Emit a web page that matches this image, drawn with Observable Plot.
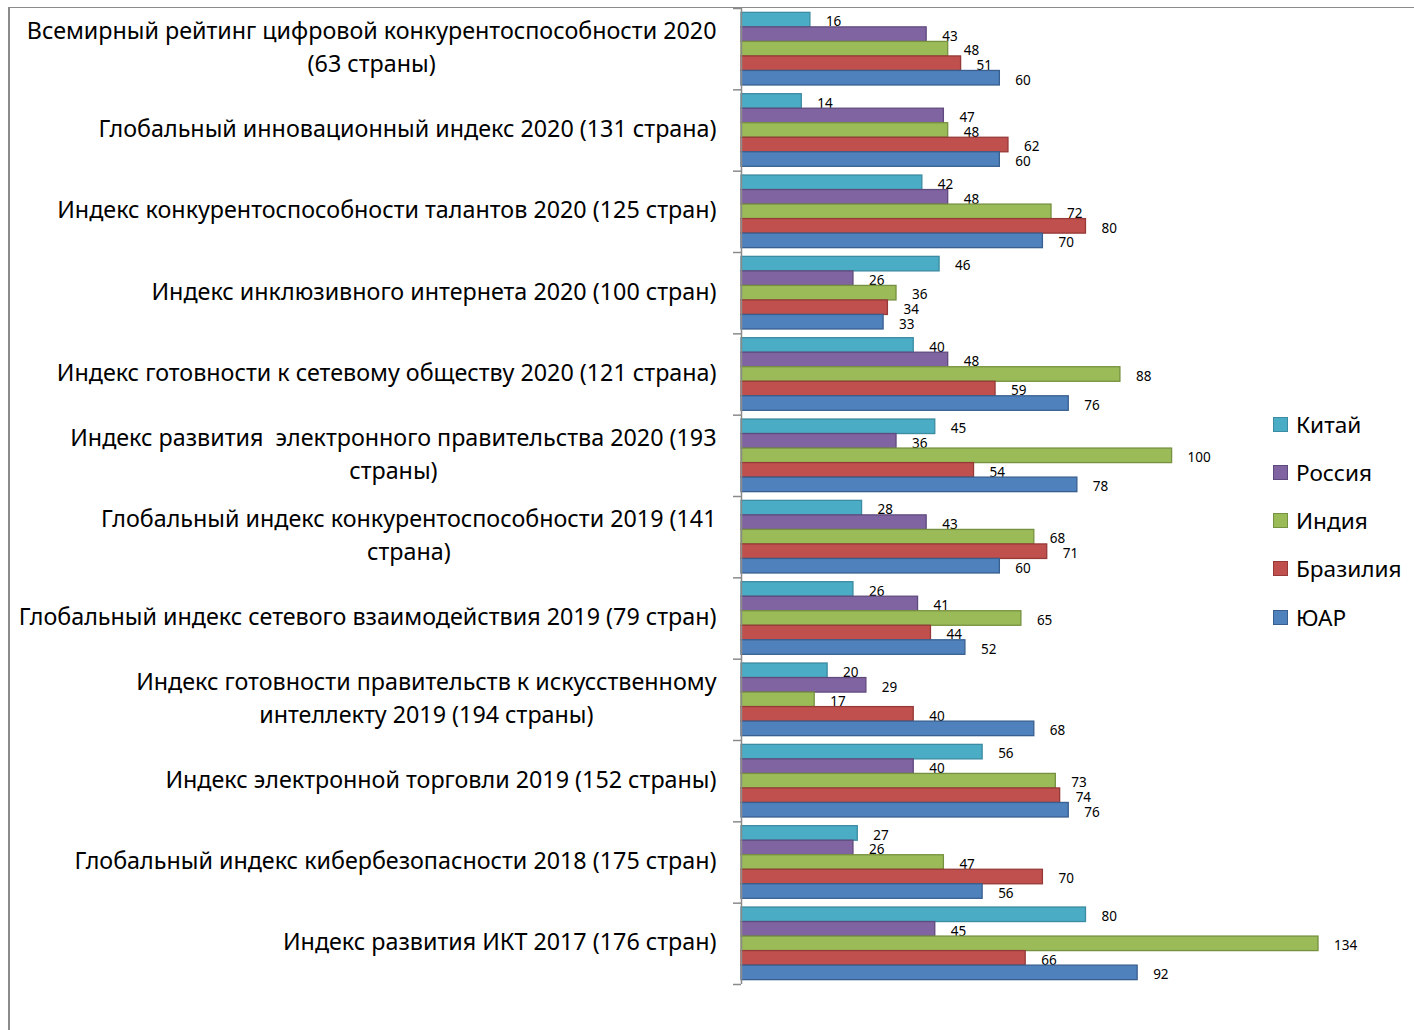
<!DOCTYPE html>
<html><head><meta charset="utf-8">
<script src="https://cdn.jsdelivr.net/npm/d3@7"></script>
<script src="https://cdn.jsdelivr.net/npm/@observablehq/plot@0.6"></script>
<style>
body{margin:0;background:#fff;font-family:"Noto Sans",sans-serif;}
#wrap{position:relative;width:1414px;height:1030px;overflow:hidden;}
#border{position:absolute;left:8px;top:6.5px;width:1500px;height:1100px;border-top:1.5px solid #8a8a8a;border-left:2px solid #8a8a8a;}
#chart{position:absolute;left:0;top:0;}
#legend{position:absolute;left:1273px;top:400px;}
.item{display:flex;align-items:center;height:48.25px;font-size:22.6px;color:#000;}
.item .sw{border:1.5px solid;margin-right:8px;box-sizing:border-box;width:15px;height:15px;}
</style></head>
<body><div id="wrap"><div id="border"></div><div id="chart"></div><div id="legend"></div></div>
<script>
const categories = [
  "Всемирный рейтинг цифровой конкурентоспособности 2020 (63 страны)",
  "Глобальный инновационный индекс 2020 (131 страна)",
  "Индекс конкурентоспособности талантов 2020 (125 стран)",
  "Индекс инклюзивного интернета 2020 (100 стран)",
  "Индекс готовности к сетевому обществу 2020 (121 страна)",
  "Индекс развития  электронного правительства 2020 (193 страны)",
  "Глобальный индекс конкурентоспособности 2019 (141 страна)",
  "Глобальный индекс сетевого взаимодействия 2019 (79 стран)",
  "Индекс готовности правительств к искусственному интеллекту 2019 (194 страны)",
  "Индекс электронной торговли 2019 (152 страны)",
  "Глобальный индекс кибербезопасности 2018 (175 стран)",
  "Индекс развития ИКТ 2017 (176 стран)"
];
const categoryLabels = [
  "Всемирный рейтинг цифровой конкурентоспособности 2020\n(63 страны)",
  "Глобальный инновационный индекс 2020 (131 страна)",
  "Индекс конкурентоспособности талантов 2020 (125 стран)",
  "Индекс инклюзивного интернета 2020 (100 стран)",
  "Индекс готовности к сетевому обществу 2020 (121 страна)",
  "Индекс развития  электронного правительства 2020 (193\nстраны)",
  "Глобальный индекс конкурентоспособности 2019 (141\nстрана)",
  "Глобальный индекс сетевого взаимодействия 2019 (79 стран)",
  "Индекс готовности правительств к искусственному\nинтеллекту 2019 (194 страны)",
  "Индекс электронной торговли 2019 (152 страны)",
  "Глобальный индекс кибербезопасности 2018 (175 стран)",
  "Индекс развития ИКТ 2017 (176 стран)"
];
const series = ["Китай", "Россия", "Индия", "Бразилия", "ЮАР"];
const china    = [16, 14, 42, 46, 40, 45, 28, 26, 20, 56, 27, 80];
const russia   = [43, 47, 48, 26, 48, 36, 43, 41, 29, 40, 26, 45];
const india    = [48, 48, 72, 36, 88, 100, 68, 65, 17, 73, 47, 134];
const brazil   = [51, 62, 80, 34, 59, 54, 71, 44, 40, 74, 70, 66];
const rsa      = [60, 60, 70, 33, 76, 78, 60, 52, 68, 76, 56, 92];
const fills   = ["#4bacc6", "#8064a2", "#9bbb59", "#c0504d", "#4f81bd"];
const strokes = ["#3b8ba1", "#5f4a7d", "#76913f", "#953a38", "#395f8f"];

const valuesBySeries = [china, russia, india, brazil, rsa];
const rows = [];
series.forEach((s, si) => categories.forEach((c, ci) => rows.push({category: c, series: s, value: valuesBySeries[si][ci]})));

const W = 1414, H = 1030, mT = 8, mB = 46, mL = 741;
const bandH = (H - mT - mB) / categories.length;
const padOuter = 0.3;
const step = bandH / (5 + 2 * padOuter);
const off = step * padOuter;

const catSize = 23.3;
const ctx = document.createElement("canvas").getContext("2d");
ctx.font = `${catSize}px 'Noto Sans'`;

const marks = [];
series.forEach((s, i) => {
  const data = rows.filter(r => r.series === s);
  const top = off + step * i;
  const bottom = bandH - (off + step * (i + 1));
  marks.push(Plot.barX(data, {x: "value", y: "category", fill: fills[i], stroke: strokes[i], strokeWidth: 1.3, insetTop: top, insetBottom: bottom}));
  marks.push(Plot.text(data, {x: "value", y: "category", text: d => String(d.value), textAnchor: "start", dx: 15.5, dy: top + step / 2 - bandH / 2 + 2, fontSize: 13.5, fill: "#000", fontFamily: "Noto Sans"}));
});
categories.forEach((c, i) => {
  const lines = categoryLabels[i].split("\n");
  const w = Math.max(...lines.map(l => ctx.measureText(l).width));
  marks.push(Plot.text([c], {y: d => d, text: () => categoryLabels[i], frameAnchor: "left", textAnchor: "middle", lineAnchor: "middle", lineHeight: 33 / catSize, dx: -25 - w / 2, dy: -4, fontSize: catSize, fill: "#000", fontFamily: "Noto Sans"}));
});
marks.push(Plot.axisY({tickSize: 8, tickFormat: () => "", stroke: "#8a8a8a", strokeWidth: 1.5, dy: -bandH / 2, label: null}));
marks.push(Plot.axisY({ticks: [categories[categories.length - 1]], tickSize: 8, tickFormat: () => "", stroke: "#8a8a8a", strokeWidth: 1.5, dy: bandH / 2, label: null}));
marks.push(Plot.ruleX([0], {stroke: "#8a8a8a", strokeWidth: 1.5}));

const chart = Plot.plot({
  width: W, height: H,
  marginTop: mT, marginBottom: mB, marginLeft: mL, marginRight: 0,
  style: {background: "transparent", fontFamily: "Noto Sans"},
  x: {domain: [0, 134], range: [741, 1318], axis: null},
  y: {domain: categories, paddingInner: 0, paddingOuter: 0, round: false},
  marks
});
document.getElementById("chart").appendChild(chart);

const legend = document.getElementById("legend");
series.forEach((s, i) => {
  const it = document.createElement("div");
  it.className = "item";
  it.innerHTML = `<span class="sw" style="background:${fills[i]};border-color:${strokes[i]}"></span><span>${s}</span>`;
  legend.appendChild(it);
});
</script>
</body></html>
